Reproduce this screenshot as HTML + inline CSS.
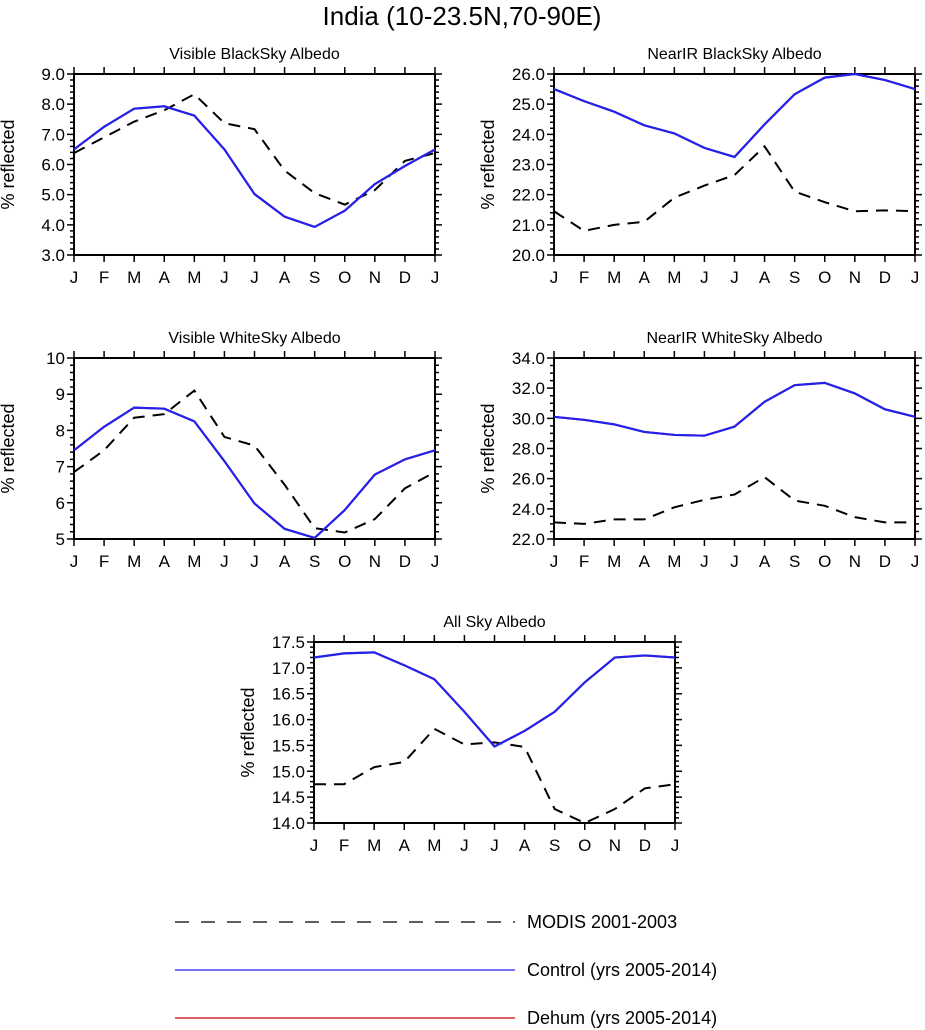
<!DOCTYPE html>
<html><head><meta charset="utf-8"><style>
body{margin:0;background:#fff;}
svg{display:block;font-family:"Liberation Sans",sans-serif;}
</style></head><body>
<svg id="chart" width="925" height="1030">
<text x="462" y="25" text-anchor="middle" font-size="26">India (10-23.5N,70-90E)</text>
<g>
<line x1="175" y1="922" x2="515" y2="922" stroke="#000" stroke-width="1.3" stroke-dasharray="14,12"/>
<text x="527" y="928" font-size="18">MODIS 2001-2003</text>
<line x1="175" y1="970" x2="515" y2="970" stroke="#2222ee" stroke-width="1.3"/>
<text x="527" y="976" font-size="18">Control (yrs 2005-2014)</text>
<line x1="175" y1="1018" x2="515" y2="1018" stroke="#cc0000" stroke-width="1.3"/>
<text x="527" y="1024" font-size="18">Dehum (yrs 2005-2014)</text>
</g>
</svg>
<script>
const months = ["J","F","M","A","M","J","J","A","S","O","N","D","J"];
const p1Control = [6.5,7.25,7.85,7.93,7.62,6.5,5.02,4.27,3.93,4.47,5.35,5.95,6.5];
const p1Modis = [6.38,6.9,7.42,7.8,8.33,7.37,7.17,5.8,5.05,4.67,5.15,6.12,6.38];
const p1Ticks = ["3.0","4.0","5.0","6.0","7.0","8.0","9.0"];
const p2Control = [25.5,25.1,24.75,24.3,24.03,23.55,23.25,24.33,25.33,25.88,26.0,25.8,25.5];
const p2Modis = [21.45,20.8,21.0,21.1,21.9,22.3,22.65,23.6,22.1,21.75,21.45,21.48,21.45];
const p2Ticks = ["20.0","21.0","22.0","23.0","24.0","25.0","26.0"];
const p3Control = [7.45,8.1,8.63,8.6,8.25,7.15,5.98,5.28,5.03,5.8,6.78,7.2,7.45];
const p3Modis = [6.85,7.45,8.35,8.45,9.1,7.82,7.58,6.5,5.3,5.18,5.55,6.4,6.85];
const p3Ticks = ["5","6","7","8","9","10"];
const p4Control = [30.1,29.9,29.6,29.1,28.9,28.85,29.45,31.1,32.2,32.35,31.65,30.6,30.1];
const p4Modis = [23.1,23.0,23.3,23.3,24.1,24.6,24.95,26.1,24.55,24.2,23.45,23.1,23.1];
const p4Ticks = ["22.0","24.0","26.0","28.0","30.0","32.0","34.0"];
const p5Control = [17.2,17.28,17.3,17.05,16.78,16.15,15.48,15.78,16.15,16.72,17.2,17.24,17.2];
const p5Modis = [14.75,14.75,15.08,15.18,15.82,15.52,15.56,15.47,14.27,14.0,14.27,14.67,14.75];
const p5Ticks = ["14.0","14.5","15.0","15.5","16.0","16.5","17.0","17.5"];

const NS="http://www.w3.org/2000/svg";
const svg=document.getElementById('chart');
function mk(tag,attrs,parent){const e=document.createElementNS(NS,tag);for(const k in attrs)e.setAttribute(k,attrs[k]);(parent||svg).appendChild(e);return e;}

function panel(id,title,x0,y0,ticks,nMinor,control,modis){
  const w=361,h=181;
  const g=mk('g',{});
  
  
  const ymin=parseFloat(ticks[0]),ymax=parseFloat(ticks[ticks.length-1]);
  const sx=i=>x0+i*w/(months.length-1);
  const sy=v=>y0+h-(v-ymin)/(ymax-ymin)*h;
  const t=mk('text',{x:x0+w/2,y:y0-15,'text-anchor':'middle','font-size':'16'},g);
  t.textContent=title;
  
  
  const yl=mk('text',{transform:`translate(${x0-60},${y0+h/2}) rotate(-90)`,'text-anchor':'middle','font-size':'18'},g);
  yl.textContent='% reflected';
  
  
  let d='';
  ticks.forEach((tk,i)=>{
    const v=parseFloat(tk),y=sy(v);
    d+=`M${x0-7},${y}H${x0}M${x0+w},${y}H${x0+w+7}`;
    const tl=mk('text',{x:x0-9,y:y+6,'text-anchor':'end','font-size':'17'},g);
    tl.textContent=tk;
    
    
    if(i<ticks.length-1){
      const step=(parseFloat(ticks[i+1])-v)/(nMinor+1);
      for(let k=1;k<=nMinor;k++){const yy=sy(v+k*step);d+=`M${x0-4},${yy}H${x0}M${x0+w},${yy}H${x0+w+4}`;}
    }
  });
  months.forEach((m,i)=>{
    const x=sx(i);
    d+=`M${x},${y0+h}V${y0+h+7}M${x},${y0}V${y0-7}`;
    const ml=mk('text',{x:x,y:y0+h+28,'text-anchor':'middle','font-size':'17'},g);
    ml.textContent=m;
    
    
  });
  mk('path',{d:d,stroke:'#000','stroke-width':'1.5',fill:'none'},g);
  const box=mk('rect',{x:x0,y:y0,width:w,height:h,fill:'none',stroke:'#000','stroke-width':'2'},g);
  
  
  const pts=a=>a.map((v,i)=>`${sx(i)},${sy(v)}`).join(' ');
  const lm=mk('polyline',{points:pts(modis),fill:'none',stroke:'#000','stroke-width':'2','stroke-dasharray':'12,8'},g);
  
  
  const lr=mk('polyline',{points:pts(control),fill:'none',stroke:'#cc0000','stroke-width':'2'},g);
  
  
  const lc=mk('polyline',{points:pts(control),fill:'none',stroke:'#2222ee','stroke-width':'2.2'},g);
  
  
}
panel('visible-blacksky','Visible BlackSky Albedo',74,74,p1Ticks,4,p1Control,p1Modis);
panel('nearir-blacksky','NearIR BlackSky Albedo',554,74,p2Ticks,4,p2Control,p2Modis);
panel('visible-whitesky','Visible WhiteSky Albedo',74,358,p3Ticks,4,p3Control,p3Modis);
panel('nearir-whitesky','NearIR WhiteSky Albedo',554,358,p4Ticks,3,p4Control,p4Modis);
panel('all-sky','All Sky Albedo',314,642,p5Ticks,4,p5Control,p5Modis);
</script>
</body></html>
